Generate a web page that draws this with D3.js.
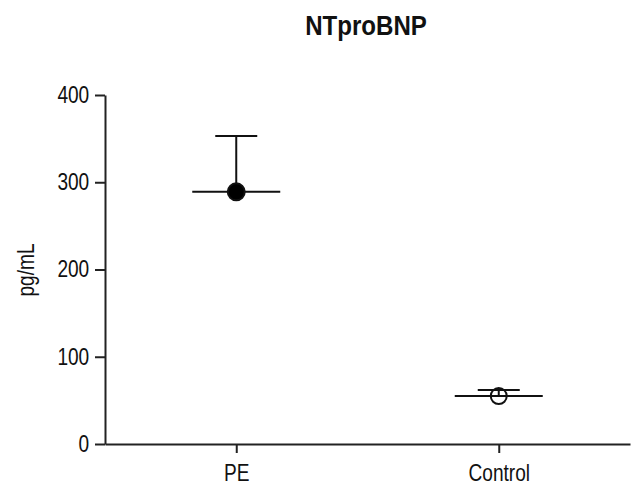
<!DOCTYPE html>
<html>
<head>
<meta charset="utf-8">
<script src="https://cdn.jsdelivr.net/npm/d3@7"></script>
<style>
  body { margin: 0; background: #fff; }
  text { font-family: "Liberation Sans", Arial, sans-serif; fill: #111; }
</style>
</head>
<body>
<div id="chart"></div>
<script>
// Data
const groups = ["PE", "Control"];
const means = [289, 55];
const upper = [353, 62];
const filled = [true, false];
const yTicks = [0, 100, 200, 300, 400];

const width = 632, height = 502;
const margin = { top: 95, right: 2, bottom: 58, left: 105 };
const w = width - margin.left - margin.right;
const h = height - margin.top - margin.bottom;
const squeeze = 0.83; // reference font is a condensed sans

const svg = d3.select("#chart").append("svg")
    .attr("width", width)
    .attr("height", height);

const g = svg.append("g")
    .attr("transform", `translate(${margin.left},${margin.top})`);

const x = d3.scalePoint().domain(groups).range([0, w]).padding(0.5);
const y = d3.scaleLinear().domain([0, 400]).range([h, 0]);

// Axes
const yAxis = g.append("g")
    .call(d3.axisLeft(y).tickValues(yTicks).tickSize(10).tickSizeOuter(0));
const xAxis = g.append("g")
    .attr("transform", `translate(0,${h})`)
    .call(d3.axisBottom(x).tickSize(9).tickSizeOuter(0).tickPadding(12));

[yAxis, xAxis].forEach(a => {
    a.select(".domain").attr("stroke", "#222").attr("stroke-width", 2);
    a.selectAll(".tick line").attr("stroke", "#222").attr("stroke-width", 2);
    a.selectAll(".tick text")
        .style("font-size", "23px")
        .attr("fill", "#111")
        .attr("transform", `scale(${squeeze},1)`);
});
yAxis.selectAll(".tick text").attr("x", -19);

// Error bars (upper only), mean lines, points
const meanHalf = 44, capHalf = 21;
const grp = g.selectAll(".grp")
    .data(groups.map((d, i) => ({ name: d, mean: means[i], up: upper[i], filled: filled[i] })))
    .enter().append("g").attr("class", "grp");

grp.append("line")
    .attr("x1", d => x(d.name)).attr("x2", d => x(d.name))
    .attr("y1", d => y(d.mean)).attr("y2", d => y(d.up))
    .attr("stroke", "#111").attr("stroke-width", 2);

grp.append("line")
    .attr("x1", d => x(d.name) - capHalf).attr("x2", d => x(d.name) + capHalf)
    .attr("y1", d => y(d.up)).attr("y2", d => y(d.up))
    .attr("stroke", "#111").attr("stroke-width", 2);

grp.append("line")
    .attr("x1", d => x(d.name) - meanHalf).attr("x2", d => x(d.name) + meanHalf)
    .attr("y1", d => y(d.mean)).attr("y2", d => y(d.mean))
    .attr("stroke", "#111").attr("stroke-width", 2);

grp.append("circle")
    .attr("cx", d => x(d.name))
    .attr("cy", d => y(d.mean))
    .attr("r", d => d.filled ? 8.5 : 8)
    .attr("fill", d => d.filled ? "#000" : "none")
    .attr("stroke", "#111").attr("stroke-width", 2);

// Title
svg.append("text")
    .attr("transform", "translate(366,35) scale(0.86,1)")
    .attr("text-anchor", "middle")
    .style("font-size", "28px").style("font-weight", "bold")
    .text("NTproBNP");

// Y label
svg.append("text")
    .attr("transform", `translate(34,270) rotate(-90) scale(${squeeze},1)`)
    .attr("text-anchor", "middle")
    .style("font-size", "23px")
    .text("pg/mL");
</script>
</body>
</html>
